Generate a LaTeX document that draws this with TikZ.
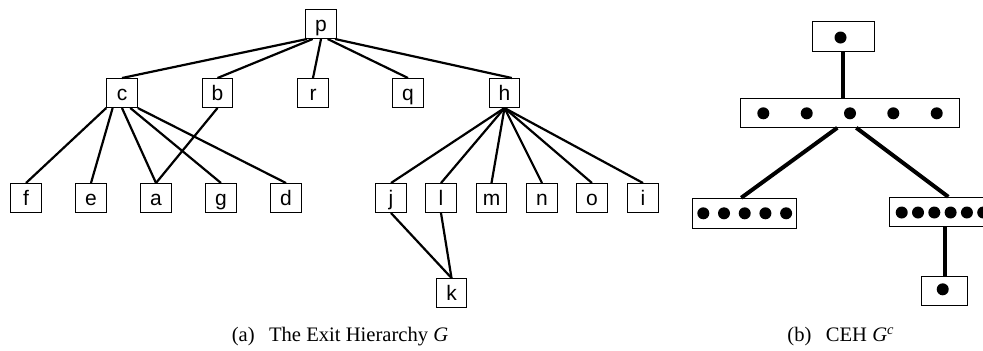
\documentclass[tikz,border=0pt]{standalone}
\usepackage{fontspec}
\setmainfont{Liberation Serif}
\setsansfont{Liberation Sans}
\usetikzlibrary{positioning}

\begin{document}
\begin{tikzpicture}[x=0.5pt, y=-0.5pt,
  vbox/.style={draw, line width=0.5pt, minimum width=15.25pt, minimum height=14.5pt,
    inner sep=0pt, text height=0.72em, text depth=0pt,
    font=\sffamily\fontsize{10.5}{11}\selectfont},
  tedge/.style={line width=1.1pt},
  cbox/.style={draw, line width=0.5pt, inner sep=0pt},
  cedge/.style={line width=2pt},
  capt/.style={font=\fontsize{10.3}{12}\selectfont}]

\clip (0,0) rectangle (983,350);

% --- Exit hierarchy G ---
\node[vbox] (p) at (321,24) {p};
\node[vbox] (c) at (122,93) {c};
\node[vbox] (b) at (217.5,93) {b};
\node[vbox] (r) at (313,93) {r};
\node[vbox] (q) at (408,93) {q};
\node[vbox] (h) at (504.5,93) {h};
\foreach \name/\x in {f/26, e/91, a/156, g/221, d/286, j/391, l/441, m/491.5, n/542, o/592, i/643}
  \node[vbox] (\name) at (\x,198) {\name};
\node[vbox] (k) at (451.5,293) {k};

\draw[tedge] (p.-133) -- (c.north);
\draw[tedge] (p.-119) -- (b.north);
\draw[tedge] (p.south) -- (r.north);
\draw[tedge] (p.-66) -- (q.north);
\draw[tedge] (p.-47) -- (h.64);

\draw[tedge] (c.south west) -- (f.north);
\draw[tedge] (c.-122) -- (e.north);
\draw[tedge] (c.south) -- (a.north);
\draw[tedge] (c.-61) -- (g.north);
\draw[tedge] (c.south east) -- (d.north);
\draw[tedge] (b.south) -- (a.north);

\foreach \kid in {j, l, m, n, o, i}
  \draw[tedge] (h.south) -- (\kid.north);
\draw[tedge] (j.south) -- (k.north);
\draw[tedge] (l.south) -- (k.north);

\node[capt] (capa) at (340,337) {(a)\hspace{0.7em}The Exit Hierarchy \textit{G}};

% --- CEH G^c ---
\node[cbox, minimum width=31pt, minimum height=15pt] (top) at (843,36.7) {};
\node[cbox, minimum width=109.65pt, minimum height=14.5pt] (mid) at (850.3,112.8) {};
\node[cbox, minimum width=51.85pt, minimum height=15pt] (lft) at (744.2,213.3) {};
\node[cbox, minimum width=53pt, minimum height=14.4pt] (rgt) at (942.3,211.7) {};
\node[cbox, minimum width=22.8pt, minimum height=14.6pt] (bot) at (944.5,291.3) {};

\fill (840.5,37.5) circle (3pt);
\foreach \x in {763.3, 806.7, 850, 893.3, 936.7}
  \fill (\x,113.3) circle (3pt);
\foreach \k in {0,...,4}
  \fill (703.3+20.7*\k,213.3) circle (3pt);
\foreach \k in {0,...,5}
  \fill (901.7+16.3*\k,212.5) circle (3pt);
\fill (942.7,289.3) circle (3pt);

\draw[cedge] (top.south) -- (top.south |- mid.north);
\draw[cedge] ([xshift=-6.5pt]mid.south) -- ([xshift=-1.5pt]lft.north);
\draw[cedge] ([xshift=3pt]mid.south) -- ([xshift=3pt]rgt.north);
\draw[cedge] (bot.north |- rgt.south) -- (bot.north);

\node[capt] (capb) at (841,337) {(b)\hspace{0.7em}CEH \textit{G}\textsuperscript{\textit{c}}};

\end{tikzpicture}
\end{document}
